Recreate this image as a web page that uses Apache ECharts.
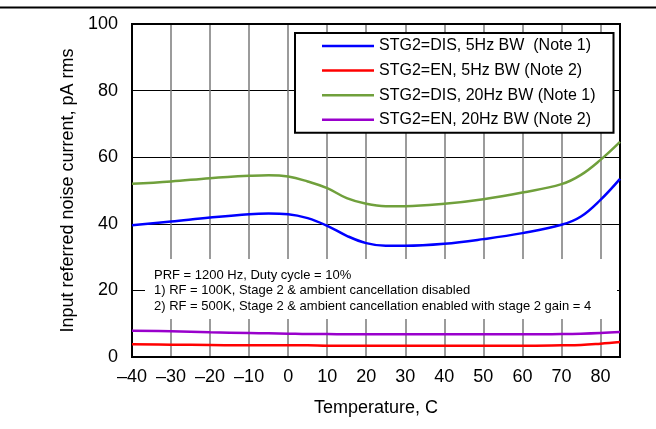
<!DOCTYPE html>
<html>
<head>
<meta charset="utf-8">
<script src="https://cdn.jsdelivr.net/npm/echarts@6/dist/echarts.min.js"></script>
<style>
html,body{margin:0;padding:0;background:#fff;}
#chart{width:656px;height:429px;}
</style>
</head>
<body>
<div id="chart"></div>
<script>
var temps = [-40, -30, -20, -10, -5, 0, 5, 10, 15, 20, 25, 30, 40, 50, 60, 70, 75, 80, 85];
var stg2Dis5Hz = [39.6, 40.7, 41.9, 42.9, 43.1, 42.9, 41.7, 39.4, 36.4, 34.2, 33.4, 33.4, 34.0, 35.4, 37.2, 39.7, 42.2, 47.2, 53.5];
var stg2En5Hz = [3.8, 3.7, 3.6, 3.5, 3.5, 3.5, 3.5, 3.4, 3.4, 3.4, 3.4, 3.4, 3.4, 3.4, 3.4, 3.5, 3.6, 4.0, 4.5];
var stg2Dis20Hz = [52.0, 52.7, 53.7, 54.4, 54.6, 54.2, 52.7, 50.7, 47.7, 46.0, 45.3, 45.3, 46.0, 47.4, 49.4, 51.9, 54.7, 59.2, 64.6];
var stg2En20Hz = [7.9, 7.7, 7.4, 7.2, 7.1, 7.0, 6.9, 6.9, 6.8, 6.8, 6.8, 6.8, 6.8, 6.8, 6.8, 6.9, 7.0, 7.2, 7.5];
var seriesNames = ['STG2=DIS, 5Hz BW  (Note 1)', 'STG2=EN, 5Hz BW (Note 2)', 'STG2=DIS, 20Hz BW (Note 1)', 'STG2=EN, 20Hz BW (Note 2)'];
var seriesColors = ['#0000FF', '#FF0000', '#70A03C', '#9900CC'];
var noteLines = ['PRF = 1200 Hz, Duty cycle = 10%', '1) RF = 100K, Stage 2 & ambient cancellation disabled', '2) RF = 500K, Stage 2 & ambient cancellation enabled with stage 2 gain = 4'];
var xTitle = 'Temperature, C';
var yTitle = 'Input referred noise current, pA rms';

function pairs(ys){ return temps.map(function(t,i){ return [t, ys[i]]; }); }
var allData = [stg2Dis5Hz, stg2En5Hz, stg2Dis20Hz, stg2En20Hz];

var chart = echarts.init(document.getElementById('chart'));
var font = 'Liberation Sans, Arial, sans-serif';
chart.setOption({
  animation: false,
  backgroundColor: '#fff',
  textStyle: { fontFamily: font },
  grid: { left: 132, right: 36, top: 24, bottom: 72, show: true, borderColor: '#000', borderWidth: 2, backgroundColor: 'transparent', z: 3 },
  xAxis: {
    type: 'value', min: -40, max: 85, interval: 10,
    axisLine: { show: false }, axisTick: { show: false },
    axisLabel: { fontSize: 18, color: '#000', fontFamily: font, margin: 11, showMaxLabel: false,
      formatter: function(v){ return v < 0 ? '\u2013' + Math.abs(v) : String(v); } },
    splitLine: { show: true, lineStyle: { color: '#7a7a7a', width: 1.5 } },
    name: xTitle, nameLocation: 'middle', nameGap: 42,
    nameTextStyle: { fontSize: 18, color: '#000', fontFamily: font }
  },
  yAxis: {
    type: 'value', min: 0, max: 100, interval: 20,
    axisLine: { show: false }, axisTick: { show: false },
    axisLabel: { fontSize: 18, color: '#000', fontFamily: font, margin: 14 },
    splitLine: { show: true, lineStyle: { color: '#000', width: 1 } },
    name: yTitle, nameLocation: 'middle', nameGap: 53,
    nameTextStyle: { fontSize: 18, color: '#000', fontFamily: font }
  },
  legend: {
    orient: 'vertical', left: 295, top: 33,
    backgroundColor: '#fff', borderColor: '#000', borderWidth: 2,
    padding: [4, 18, 4, 27],
    icon: 'rect',
    itemWidth: 52, itemHeight: 2.5, itemGap: 6.6,
    textStyle: { fontSize: 16, lineHeight: 18, color: '#000', fontFamily: font, padding: [0,0,0,0] },
    data: seriesNames
  },
  graphic: [
    { type: 'line', shape: { x1: 0, y1: 7.5, x2: 656, y2: 7.5 }, style: { stroke: '#000', lineWidth: 2 }, z: 10 },
    { type: 'rect', shape: { x: 145, y: 259, width: 472, height: 60 }, style: { fill: '#fff' }, z: 5 },
    { type: 'text', left: 154, top: 267.5, z: 6,
      style: { text: noteLines.join('\n'), font: '13px ' + font, fill: '#000', lineHeight: 15.5 } }
  ],
  series: allData.map(function(d, i){
    return { name: seriesNames[i], type: 'line', data: pairs(d), smooth: 0.4, symbol: 'none',
      lineStyle: { color: seriesColors[i], width: 2.5 }, itemStyle: { color: seriesColors[i] }, z: 4 };
  })
});
</script>
</body>
</html>
